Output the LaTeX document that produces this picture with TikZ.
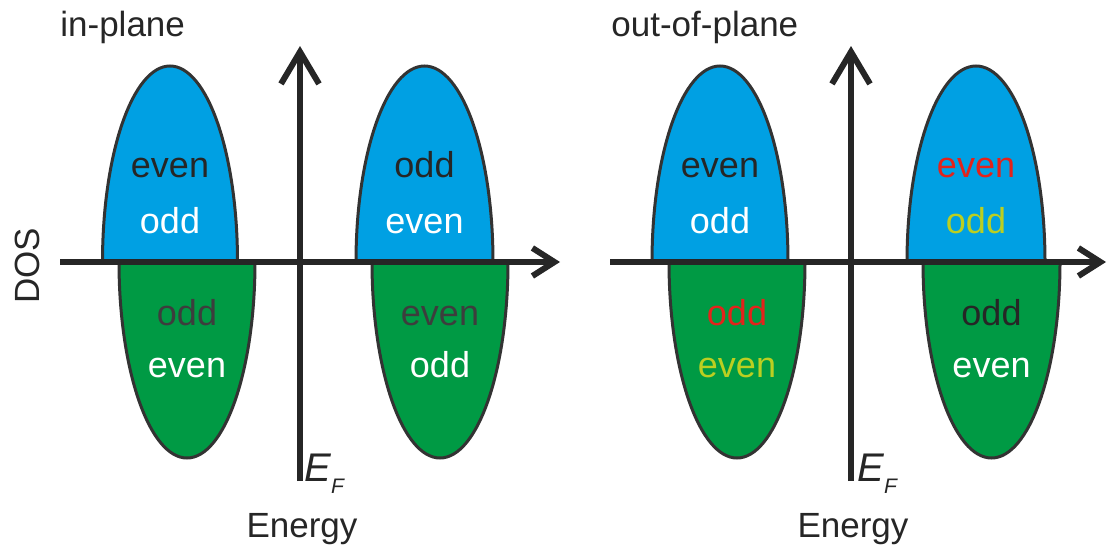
\documentclass[tikz,border=0pt]{standalone}
\usepackage{fontspec}
\setmainfont{Liberation Sans}
\usetikzlibrary{arrows.meta}

\definecolor{bandblue}{HTML}{00A0E3}
\definecolor{bandgreen}{HTML}{009A44}
\definecolor{linegrey}{HTML}{333333}
\definecolor{txtdark}{HTML}{262626}
\definecolor{txtgrey}{HTML}{3D3D3D}
\definecolor{txtred}{HTML}{E3231B}
\definecolor{txtyellow}{HTML}{BBCF21}

\begin{document}
\begin{tikzpicture}[x=0.5pt,y=0.5pt,
  band/.style={draw=linegrey,line width=1.5pt},
  axis/.style={draw=txtdark,line width=3pt},
  uparrow/.style={-{Straight Barb[length=16pt,width=19pt]}},
  rightarrow/.style={-{Straight Barb[length=11pt,width=14pt]}},
  lbl/.style={font=\fontsize{18}{20}\selectfont,anchor=base,inner sep=0pt},
  title/.style={font=\fontsize{17.5}{20}\selectfont,text=txtdark,inner sep=0pt}]
\useasboundingbox (0,0) rectangle (1107,548);

% in-plane
\begin{scope}[shift={(300,286)}]
\draw[band,fill=bandblue] (-197.5,0) arc[start angle=180,end angle=0,x radius=67.5,y radius=196] -- cycle;
\draw[band,fill=bandblue] (56,0) arc[start angle=180,end angle=0,x radius=68.5,y radius=196] -- cycle;
\draw[band,fill=bandgreen] (-181,0) arc[start angle=180,end angle=360,x radius=68,y radius=196] -- cycle;
\draw[band,fill=bandgreen] (72,0) arc[start angle=180,end angle=360,x radius=68,y radius=196] -- cycle;
\coordinate (l-bot) at (0,-219);
\coordinate (l-top) at (0,216);
\coordinate (l-west) at (-240,0);
\coordinate (l-east) at (260,0);
\draw[axis,uparrow] (l-bot) -- (l-top);
\draw[axis,rightarrow] (l-west) -- (l-east);
\node[lbl,text=txtdark] (l-bl-up) at (-130,85) {even};
\node[lbl,text=white] (l-bl-lo) at (-130,29) {odd};
\node[lbl,text=txtdark] (l-br-up) at (124.5,85) {odd};
\node[lbl,text=white] (l-br-lo) at (124.5,29) {even};
\node[lbl,text=txtgrey] (l-gl-up) at (-113,-63) {odd};
\node[lbl,text=white] (l-gl-lo) at (-113,-115) {even};
\node[lbl,text=txtgrey] (l-gr-up) at (140,-63) {even};
\node[lbl,text=white] (l-gr-lo) at (140,-115) {odd};
\node[title,anchor=base west] (l-title) at (-240,226) {in-plane};
\node[title,anchor=base,rotate=90] (l-dos) at (-260,-4) {DOS};
\node[title,anchor=base] (l-energy) at (2,-275) {Energy};
\node[title,anchor=base west,font=\fontsize{20}{24}\selectfont\itshape] (l-ef) at (4,-219)
  {E\raisebox{-0.3em}{\fontsize{10.5}{12}\selectfont F}};
\end{scope}

% out-of-plane
\begin{scope}[shift={(851,286)}]
\draw[band,fill=bandblue] (-199,0) arc[start angle=180,end angle=0,x radius=68,y radius=196] -- cycle;
\draw[band,fill=bandblue] (56,0) arc[start angle=180,end angle=0,x radius=69,y radius=196] -- cycle;
\draw[band,fill=bandgreen] (-182,0) arc[start angle=180,end angle=360,x radius=68,y radius=196] -- cycle;
\draw[band,fill=bandgreen] (72,0) arc[start angle=180,end angle=360,x radius=68.5,y radius=196] -- cycle;
\coordinate (r-bot) at (0,-219);
\coordinate (r-top) at (0,216);
\coordinate (r-west) at (-241,0);
\coordinate (r-east) at (255,0);
\draw[axis,uparrow] (r-bot) -- (r-top);
\draw[axis,rightarrow] (r-west) -- (r-east);
\node[lbl,text=txtdark] (r-bl-up) at (-131,85) {even};
\node[lbl,text=white] (r-bl-lo) at (-131,29) {odd};
\node[lbl,text=txtred] (r-br-up) at (125,85) {even};
\node[lbl,text=txtyellow] (r-br-lo) at (125,29) {odd};
\node[lbl,text=txtred] (r-gl-up) at (-114,-63) {odd};
\node[lbl,text=txtyellow] (r-gl-lo) at (-114,-115) {even};
\node[lbl,text=txtdark] (r-gr-up) at (140.5,-63) {odd};
\node[lbl,text=white] (r-gr-lo) at (140.5,-115) {even};
\node[title,anchor=base west] (r-title) at (-240,226) {out-of-plane};
\node[title,anchor=base] (r-energy) at (2,-275) {Energy};
\node[title,anchor=base west,font=\fontsize{20}{24}\selectfont\itshape] (r-ef) at (6,-219)
  {E\raisebox{-0.3em}{\fontsize{10.5}{12}\selectfont F}};
\end{scope}
\end{tikzpicture}
\end{document}
